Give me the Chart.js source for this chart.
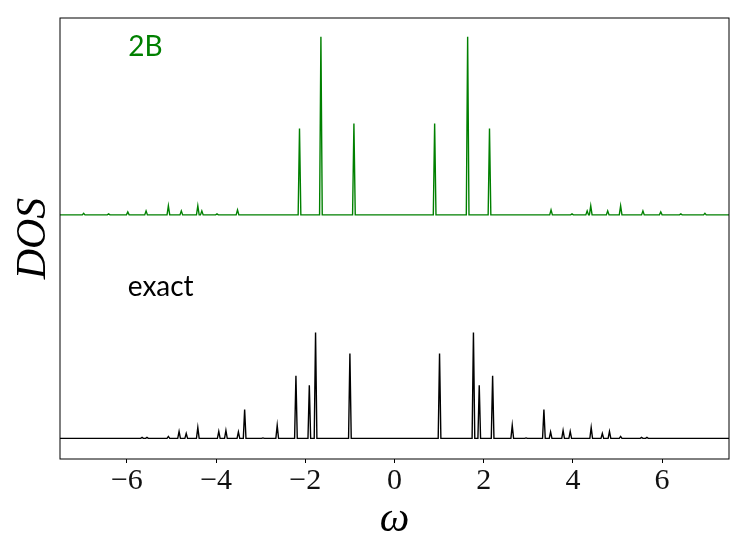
<!DOCTYPE html>
<html>
<head>
<meta charset="utf-8">
<script src="https://cdn.jsdelivr.net/npm/chart.js@4"></script>
<style>
  html, body { margin: 0; padding: 0; background: #fff; }
  #wrap { width: 747px; height: 560px; }
</style>
</head>
<body>
<div id="wrap"><canvas id="chart" width="747" height="560"></canvas></div>
<script>
// peak positions (omega) and heights
const greenPos = [-6.97, -6.41, -5.98, -5.57, -5.07, -4.78, -4.41, -4.32, -3.98, -3.52,
  -2.13, -1.65, -0.91, 0.90, 1.64, 2.13,
  3.51, 3.98, 4.32, 4.40, 4.78, 5.07, 5.57, 5.97, 6.42, 6.96];
const greenH = [0.015, 0.01, 0.03, 0.04, 0.09, 0.04, 0.09, 0.04, 0.01, 0.05,
  0.863, 1.783, 0.913, 0.913, 1.783, 0.863,
  0.05, 0.01, 0.04, 0.09, 0.04, 0.09, 0.04, 0.03, 0.01, 0.015];
const greenOffset = 2.237;

const blackPos = [-5.66, -5.55, -5.07, -4.83, -4.67, -4.41, -3.94, -3.78, -3.50, -3.36, -2.95, -2.63,
  -2.21, -1.91, -1.77, -1.00, 1.01, 1.77, 1.90, 2.20,
  2.64, 2.95, 3.35, 3.50, 3.78, 3.94, 4.41, 4.66, 4.82, 5.07, 5.54, 5.66];
const blackH = [0.01, 0.01, 0.02, 0.07, 0.05, 0.11, 0.07, 0.08, 0.065, 0.29, 0.005, 0.13,
  0.627, 0.533, 1.06, 0.85, 0.85, 1.06, 0.533, 0.627,
  0.13, 0.005, 0.29, 0.065, 0.08, 0.07, 0.11, 0.05, 0.07, 0.02, 0.01, 0.01];

const xTicks = [-6, -4, -2, 0, 2, 4, 6];
const xMin = -7.5, xMax = 7.5;
const yMin = -0.206, yMax = 4.207;

const labels = [
  { text: "2B", x: -5.97, y: 3.83, color: "#008000" },
  { text: "exact", x: -5.98, y: 1.43, color: "#000000" }
];

// each peak drawn as a narrow spike on the baseline
function spikes(pos, h, base) {
  const hw = 0.03;
  const pts = [{ x: xMin, y: base }];
  pos.forEach((p, i) => {
    pts.push({ x: p - hw, y: base });
    pts.push({ x: p, y: base + h[i] });
    pts.push({ x: p + hw, y: base });
  });
  pts.push({ x: xMax, y: base });
  return pts;
}

const boxAndText = {
  id: "boxAndText",
  afterDatasetsDraw(chart) {
    const c = chart.ctx;
    const a = chart.chartArea;
    const xs = chart.scales.x, ys = chart.scales.y;
    c.save();
    c.font = "28px Lato";
    c.textBaseline = "alphabetic";
    c.textAlign = "left";
    labels.forEach(l => {
      c.fillStyle = l.color;
      c.fillText(l.text, xs.getPixelForValue(l.x), ys.getPixelForValue(l.y));
    });
    c.strokeStyle = "#000";
    c.lineWidth = 1;
    c.strokeRect(a.left, a.top, a.right - a.left, a.bottom - a.top);
    c.restore();
  }
};

new Chart(document.getElementById("chart"), {
  type: "line",
  data: {
    datasets: [
      {
        label: "2B",
        data: spikes(greenPos, greenH, greenOffset),
        borderColor: "#008000",
        borderWidth: 1.4,
        pointRadius: 0,
        tension: 0
      },
      {
        label: "exact",
        data: spikes(blackPos, blackH, 0),
        borderColor: "#000000",
        borderWidth: 1.4,
        pointRadius: 0,
        tension: 0
      }
    ]
  },
  options: {
    responsive: false,
    animation: false,
    devicePixelRatio: 1,
    layout: { padding: { top: 18, right: 18, left: 0, bottom: 0 } },
    plugins: { legend: { display: false }, tooltip: { enabled: false } },
    scales: {
      x: {
        type: "linear",
        min: xMin,
        max: xMax,
        afterBuildTicks: s => { s.ticks = xTicks.map(v => ({ value: v })); },
        afterFit: s => { s.height = 101; },
        grid: { drawOnChartArea: false, drawTicks: true, tickLength: 4, color: "#000", lineWidth: 1 },
        border: { display: false },
        ticks: {
          color: "#111",
          padding: 0,
          maxRotation: 0,
          font: { family: "Liberation Serif", size: 30 },
          callback: v => (v < 0 ? "\u2212" + Math.abs(v) : String(v))
        },
        title: {
          display: true,
          text: "ω",
          color: "#000",
          font: { family: "Liberation Serif", size: 42, style: "italic" },
          padding: { top: 0, bottom: 15 }
        }
      },
      y: {
        min: yMin,
        max: yMax,
        afterFit: s => { s.width = 60; },
        grid: { display: false },
        border: { display: false },
        ticks: { display: false },
        title: {
          display: true,
          text: "DOS",
          color: "#000",
          font: { family: "Liberation Serif", size: 42, style: "italic" },
          padding: { top: 9, bottom: 0 }
        }
      }
    }
  },
  plugins: [boxAndText]
});
</script>
</body>
</html>
